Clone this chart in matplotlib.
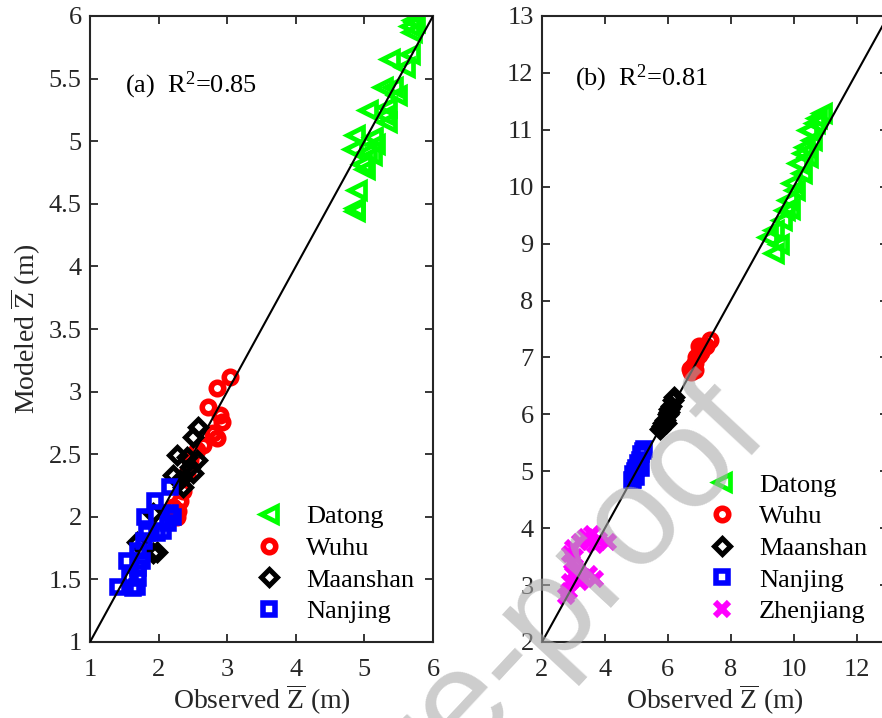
import matplotlib
matplotlib.use("Agg")
import matplotlib.pyplot as plt

plt.rcParams['font.family'] = ['Liberation Serif', 'DejaVu Serif']
plt.rcParams['mathtext.fontset'] = 'custom'
plt.rcParams['mathtext.rm'] = 'Liberation Serif'
plt.rcParams['mathtext.it'] = 'Liberation Serif:italic'

# ---------------- Panel (a) data ----------------
a_datong_x = [5.71, 5.69, 5.66, 5.74, 5.37, 5.66, 5.59, 5.27, 5.42, 5.47, 5.33, 5.05, 5.30, 5.33,
              4.86, 5.13, 5.15, 4.83, 5.04, 5.11, 4.97, 5.01, 4.89, 4.86, 4.86]
a_datong_y = [5.97, 5.87, 5.92, 5.95, 5.66, 5.70, 5.59, 5.43, 5.43, 5.37, 5.27, 5.25, 5.21, 5.15,
              5.05, 5.03, 4.98, 4.94, 4.91, 4.89, 4.82, 4.78, 4.61, 4.47, 4.44]
a_wuhu_x = [3.04, 2.85, 2.72, 2.90, 2.92, 2.80, 2.85, 2.65, 2.56, 2.46, 2.41, 2.36, 2.31, 2.28, 2.27, 2.21]
a_wuhu_y = [3.12, 3.03, 2.88, 2.81, 2.76, 2.67, 2.63, 2.57, 2.53, 2.45, 2.35, 2.21, 2.13, 2.05, 2.00, 2.08]
a_maan_x = [2.58, 2.50, 2.27, 2.41, 2.56, 2.46, 2.50, 2.21, 2.31, 2.36, 1.92, 1.69, 1.97, 1.92]
a_maan_y = [2.72, 2.64, 2.49, 2.48, 2.45, 2.40, 2.35, 2.33, 2.29, 2.24, 2.03, 1.80, 1.72, 1.71]
a_nanj_x = [2.17, 1.95, 1.80, 2.17, 2.21, 2.14, 2.06, 1.97, 1.83, 1.78, 1.70, 1.54, 1.76, 1.70,
            1.58, 1.70, 1.41, 1.63, 1.68]
a_nanj_y = [2.24, 2.13, 2.00, 2.03, 2.00, 1.95, 1.89, 1.87, 1.87, 1.81, 1.73, 1.65, 1.65, 1.59,
            1.52, 1.51, 1.44, 1.43, 1.44]

# ---------------- Panel (b) data ----------------
b_datong_x = [10.90, 10.67, 10.47, 10.58, 10.36, 10.47, 10.15, 10.26, 9.94, 10.05, 9.83, 9.72,
              9.62, 9.39, 9.20, 9.52, 9.39, 10.75, 10.30, 9.90]
b_datong_y = [11.30, 11.12, 11.00, 10.82, 10.70, 10.52, 10.42, 10.24, 10.06, 9.94, 9.77, 9.59,
              9.41, 9.24, 9.12, 9.00, 8.83, 11.20, 10.60, 9.60]
b_wuhu_x = [6.75, 6.80, 6.85, 6.90, 7.00, 7.05, 7.10, 7.20, 7.35, 6.70, 6.85, 7.00]
b_wuhu_y = [6.75, 6.85, 6.90, 7.00, 7.05, 7.10, 7.15, 7.20, 7.30, 6.80, 6.78, 7.20]
b_maan_x = [5.75, 5.80, 5.85, 5.90, 6.00, 6.05, 6.10, 6.15, 6.20, 5.95, 6.05]
b_maan_y = [5.75, 5.80, 5.85, 5.90, 6.00, 6.05, 6.15, 6.25, 6.30, 5.85, 6.10]
b_nanj_x = [4.85, 4.90, 4.95, 5.00, 5.05, 5.10, 5.15, 5.20, 5.25, 4.90, 5.15, 5.00]
b_nanj_y = [4.85, 4.95, 5.00, 5.05, 5.15, 5.20, 5.30, 5.35, 5.40, 4.85, 5.05, 4.90]
b_zhen_x = [2.75, 2.85, 2.90, 3.00, 3.10, 3.30, 3.50, 3.70, 3.20,
            2.90, 3.00, 3.20, 3.40, 3.60, 3.50, 3.80, 4.10, 3.70, 2.95, 3.05]
b_zhen_y = [2.80, 2.90, 3.05, 3.20, 3.25, 3.15, 3.20, 3.10, 3.05,
            3.55, 3.65, 3.75, 3.85, 3.90, 3.75, 3.80, 3.75, 3.70, 3.40, 3.50]

a_ticks_x = [1, 2, 3, 4, 5, 6]
a_ticks_y = [1, 1.5, 2, 2.5, 3, 3.5, 4, 4.5, 5, 5.5, 6]
a_ticklabels_y = ['1', '1.5', '2', '2.5', '3', '3.5', '4', '4.5', '5', '5.5', '6']
b_ticks_x = [2, 4, 6, 8, 10, 12]
b_ticks_y = list(range(2, 14))

W, H = 882, 718
fig = plt.figure(figsize=(W / 100, H / 100), dpi=100)
axa = fig.add_axes([90 / W, (H - 642) / H, 343 / W, 626 / H])
axb = fig.add_axes([542 / W, (H - 642) / H, 346 / W, 626 / H])

dark = '#262626'
FS = 19
FL = 20

styles = dict(
    Datong=dict(marker='<', color='#00ff00', ms=11, mew=3.4),
    Wuhu=dict(marker='o', color='#ff0000', ms=9, mew=4.0),
    Maanshan=dict(marker='D', color='black', ms=8, mew=3.6),
    Nanjing=dict(marker='s', color='#0000ff', ms=9, mew=4.0),
    Zhenjiang=dict(marker='x', color='#ff00ff', ms=10, mew=4.4),
)

def draw(ax, name, x, y):
    st = styles[name]
    ax.plot(x, y, linestyle='none', marker=st['marker'], mfc='none', mec=st['color'],
            ms=st['ms'], mew=st['mew'], label=name)

draw(axa, 'Datong', a_datong_x, a_datong_y)
draw(axa, 'Wuhu', a_wuhu_x, a_wuhu_y)
draw(axa, 'Maanshan', a_maan_x, a_maan_y)
draw(axa, 'Nanjing', a_nanj_x, a_nanj_y)
axa.plot([1, 6], [1, 6], color='black', lw=1.5, zorder=3)

draw(axb, 'Datong', b_datong_x, b_datong_y)
draw(axb, 'Wuhu', b_wuhu_x, b_wuhu_y)
draw(axb, 'Maanshan', b_maan_x, b_maan_y)
draw(axb, 'Nanjing', b_nanj_x, b_nanj_y)
draw(axb, 'Zhenjiang', b_zhen_x, b_zhen_y)
axb.plot([2, 13], [2, 13], color='black', lw=1.5, zorder=3)

zlab = r'$\overline{\mathrm{Z}}$'
for ax in (axa, axb):
    ax.tick_params(direction='in', length=6, width=1.3, top=True, right=True,
                   labelsize=FS, colors=dark)
    ax.tick_params(axis='x', pad=12)
    ax.tick_params(axis='y', pad=6)
    for s in ax.spines.values():
        s.set_linewidth(1.5)
        s.set_color(dark)
    ax.set_xlabel('Observed ' + zlab + ' (m)', fontsize=FL, color=dark, labelpad=1)

axa.set_xlim(1, 6)
axa.set_ylim(1, 6)
axa.set_xticks(a_ticks_x)
axa.set_yticks(a_ticks_y)
axa.set_yticklabels(a_ticklabels_y)
axa.set_ylabel('Modeled ' + zlab + ' (m)', fontsize=FL, color=dark, labelpad=4)
axa.text(1.51, 5.45, r'(a)  R$^{2}$=0.85', fontsize=FS, va='center', ha='left')

axb.set_xlim(2, 13)
axb.set_ylim(2, 13)
axb.set_xticks(b_ticks_x)
axb.set_yticks(b_ticks_y)
axb.text(3.06, 11.91, r'(b)  R$^{2}$=0.81', fontsize=FS, va='center', ha='left')

leg_kw = dict(loc='lower right', frameon=False, fontsize=FS, handlelength=1.2,
              handletextpad=0.8, labelspacing=0.31, borderaxespad=0, borderpad=0)
axa.legend(bbox_to_anchor=(0.945, 0.03), **leg_kw)
axb.legend(bbox_to_anchor=(0.94, 0.03), **leg_kw)

fig.text(772 / W, 1 - 436 / H, 'Journal Pre-proof', rotation=47, rotation_mode='anchor',
         ha='right', va='baseline', fontsize=102, family='Liberation Sans',
         color=(0.67, 0.67, 0.67), alpha=0.6, zorder=100)

fig.savefig('out.png', dpi=100)
